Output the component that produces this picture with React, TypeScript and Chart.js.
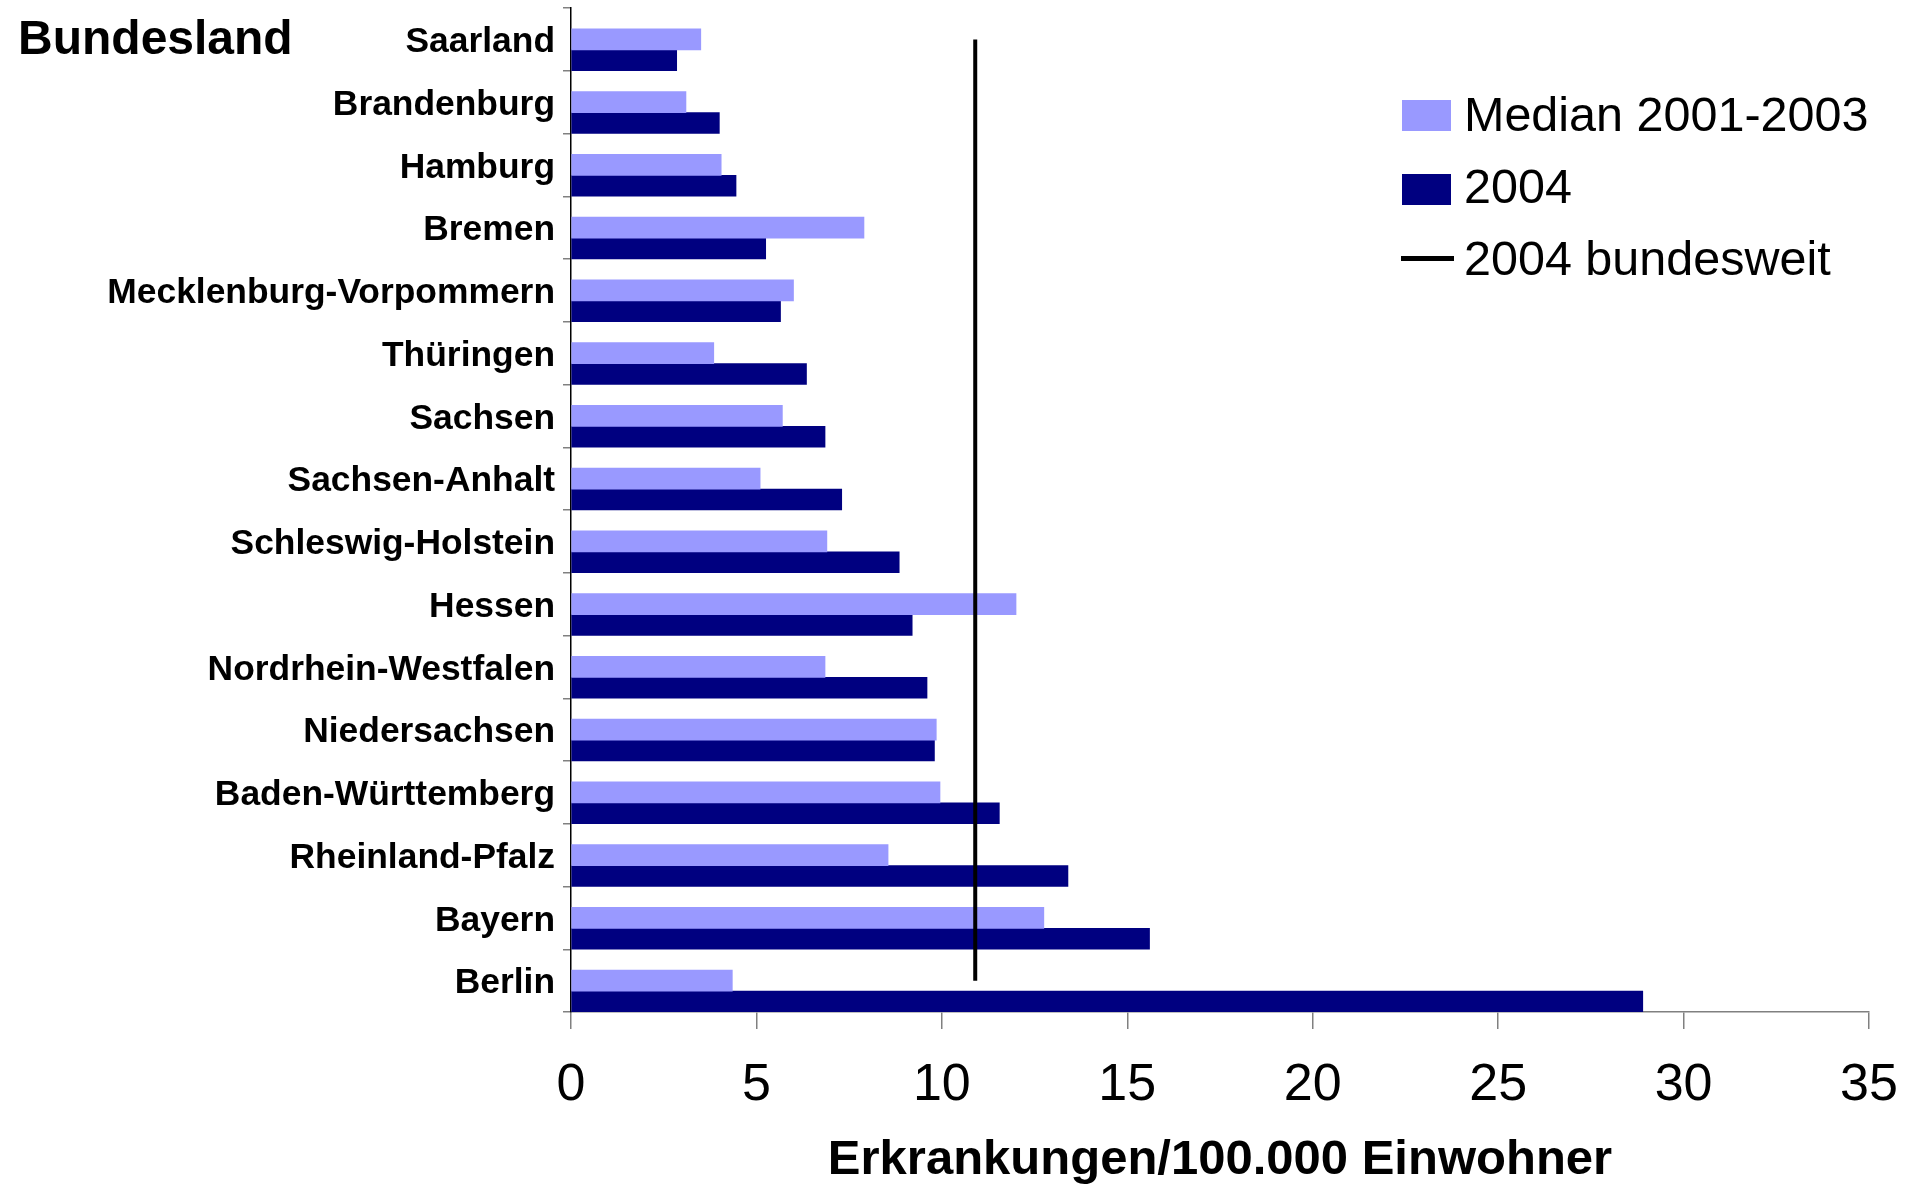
import React, { useEffect, useRef } from 'react';
import { Chart, registerables } from 'chart.js';

Chart.register(...registerables);

const categories = [
  'Saarland',
  'Brandenburg',
  'Hamburg',
  'Bremen',
  'Mecklenburg-Vorpommern',
  'Thüringen',
  'Sachsen',
  'Sachsen-Anhalt',
  'Schleswig-Holstein',
  'Hessen',
  'Nordrhein-Westfalen',
  'Niedersachsen',
  'Baden-Württemberg',
  'Rheinland-Pfalz',
  'Bayern',
  'Berlin',
];

const median2001to2003 = [3.5, 3.1, 4.05, 7.9, 6.0, 3.85, 5.7, 5.1, 6.9, 12.0, 6.85, 9.85, 9.95, 8.55, 12.75, 4.35];
const values2004 = [2.85, 4.0, 4.45, 5.25, 5.65, 6.35, 6.85, 7.3, 8.85, 9.2, 9.6, 9.8, 11.55, 13.4, 15.6, 28.9];
const bundesweit2004 = 10.9;

const xMin = 0;
const xMax = 35;
const xStep = 5;

const seriesLabels = ['Median 2001-2003', '2004', '2004 bundesweit'];
const colorLight = '#9999FF';
const colorDark = '#000080';
const FONT = '"Liberation Sans", Arial, Helvetica, sans-serif';

function zeroPadding(scale: any) {
  scale.paddingTop = 0;
  scale.paddingBottom = 0;
  scale.paddingLeft = 0;
  scale.paddingRight = 0;
}

export default function App() {
  const canvasRef = useRef<HTMLCanvasElement | null>(null);

  useEffect(() => {
    const canvas = canvasRef.current;
    if (!canvas) return;
    const chart = new Chart(canvas, {
      type: 'bar',
      data: {
        labels: categories,
        datasets: [
          {
            type: 'line',
            label: seriesLabels[2],
            data: [
              { x: bundesweit2004, y: categories[0] },
              { x: bundesweit2004, y: categories[categories.length - 1] },
            ],
            borderColor: '#000000',
            borderWidth: 4,
            pointRadius: 0,
            fill: false,
            order: -1,
          } as any,
          {
            label: '',
            data: categories.map(() => null),
            backgroundColor: 'rgba(0,0,0,0)',
          },
          {
            label: seriesLabels[0],
            data: median2001to2003,
            backgroundColor: colorLight,
          },
          {
            label: seriesLabels[1],
            data: values2004,
            backgroundColor: colorDark,
          },
        ],
      },
      options: {
        indexAxis: 'y',
        responsive: false,
        animation: false,
        events: [],
        datasets: {
          bar: {
            categoryPercentage: 1.0,
            barPercentage: 1.0,
          },
        },
        layout: {
          padding: { left: 0, right: 43, top: 8, bottom: 0 },
        },
        plugins: {
          legend: { display: false },
          tooltip: { enabled: false },
          title: { display: false },
        },
        scales: {
          x: {
            type: 'linear',
            min: xMin,
            max: xMax,
            afterFit: (scale: any) => {
              scale.height = 173;
              zeroPadding(scale);
            },
            ticks: {
              stepSize: xStep,
              color: '#000000',
              padding: 25,
              font: { family: FONT, size: 52 },
            },
            grid: {
              display: true,
              drawOnChartArea: false,
              drawTicks: true,
              tickLength: 17,
              color: '#808080',
              lineWidth: 1.5,
            },
            border: { display: true, color: '#808080', width: 1.5 },
            title: {
              display: true,
              text: 'Erkrankungen/100.000 Einwohner',
              color: '#000000',
              font: { family: FONT, size: 49, weight: 'bold', lineHeight: 1 },
              padding: { top: 0, bottom: 0 },
            },
          },
          y: {
            type: 'category',
            afterFit: (scale: any) => {
              scale.width = 571;
              zeroPadding(scale);
            },
            ticks: {
              autoSkip: false,
              color: '#000000',
              padding: 8,
              labelOffset: 3,
              font: { family: FONT, size: 35.4, weight: 'bold' },
            },
            grid: {
              display: true,
              offset: true,
              drawOnChartArea: false,
              drawTicks: true,
              tickLength: 8,
              color: '#808080',
              lineWidth: 1.5,
            },
            border: { display: true, color: '#000000', width: 1.5 },
          },
        },
      },
    });
    return () => {
      chart.destroy();
    };
  }, []);

  const legendText: React.CSSProperties = {
    position: 'absolute',
    left: 1464,
    fontFamily: FONT,
    fontSize: 48.5,
    lineHeight: '48px',
    color: '#000',
    whiteSpace: 'nowrap',
  };

  return (
    <div
      style={{
        position: 'fixed',
        left: 0,
        top: 0,
        width: 1912,
        height: 1185,
        background: '#ffffff',
        overflow: 'hidden',
      }}
    >
      <canvas ref={canvasRef} width={1912} height={1185} style={{ position: 'absolute', left: 0, top: 0 }} />
      <div
        style={{
          position: 'absolute',
          left: 18,
          top: 14,
          fontFamily: FONT,
          fontSize: 48,
          fontWeight: 'bold',
          lineHeight: '48px',
          color: '#000',
          whiteSpace: 'nowrap',
        }}
      >
        Bundesland
      </div>
      <div style={{ position: 'absolute', left: 1402, top: 100, width: 49, height: 31, background: colorLight }} />
      <div style={{ ...legendText, top: 90 }}>{seriesLabels[0]}</div>
      <div style={{ position: 'absolute', left: 1402, top: 174, width: 49, height: 31, background: colorDark }} />
      <div style={{ ...legendText, top: 162 }}>{seriesLabels[1]}</div>
      <div style={{ position: 'absolute', left: 1401, top: 256, width: 53, height: 5, background: '#000' }} />
      <div style={{ ...legendText, top: 234 }}>{seriesLabels[2]}</div>
    </div>
  );
}
